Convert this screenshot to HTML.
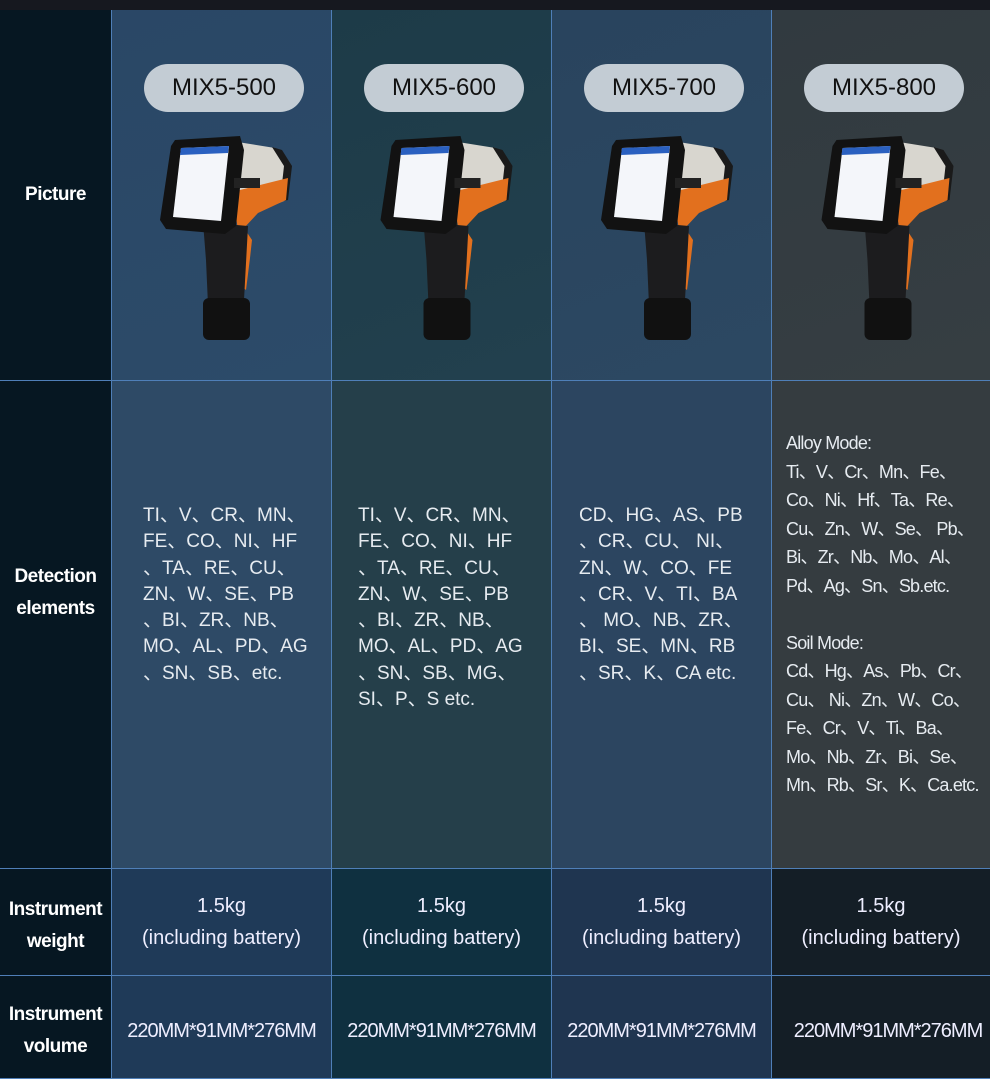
<!DOCTYPE html>
<html><head><meta charset="utf-8"><style>
*{margin:0;padding:0;box-sizing:border-box}
body{width:990px;height:1079px;background:#0e141c;font-family:"Liberation Sans","Noto Sans CJK SC",sans-serif;overflow:hidden;position:relative}
.c{position:absolute;border-right:1px solid #4f7fb8;border-bottom:1px solid #4f7fb8;color:#fff}
.lab{background:#061722;font-weight:bold;font-size:19px;display:flex;align-items:center;justify-content:center;text-align:center;line-height:32px;letter-spacing:-0.5px}
.pill{position:absolute;top:54px;left:32px;width:160px;height:48px;border-radius:24px;background:#c3ccd4;color:#111;font-size:24px;display:flex;align-items:center;justify-content:center}
.det{font-size:19px;line-height:26.3px;color:#e6ebf0;padding-left:31px;padding-top:122px}
.w{font-size:20px;text-align:center;line-height:32px;display:flex;flex-direction:column;justify-content:center;color:#eef}
.v{font-size:20px;display:flex;align-items:center;justify-content:center;color:#eef;letter-spacing:-1px;padding-top:8px}
svg{position:absolute;left:0;top:0}
</style></head><body>
<div style="position:absolute;left:0;top:0;width:990px;height:10px;background:#16181f"></div>
<div class="c lab" style="left:0;top:10px;width:112px;height:371px">Picture</div>
<div class="c lab" style="left:0;top:381px;width:112px;height:488px;padding-bottom:64px">Detection<br>elements</div>
<div class="c lab" style="left:0;top:869px;width:112px;height:107px;padding-top:8px">Instrument<br>weight</div>
<div class="c lab" style="left:0;top:976px;width:112px;height:103px;padding-top:8px">Instrument<br>volume</div>

<svg width="0" height="0"><defs><g id="gun">
<polygon points="225,140 275,148 290,165 287,200 260,210 235,205" fill="#d8d6cf"/>
<polygon points="272,147 282,150 292,166 288,200 280,202 284,166" fill="#1a1a1a"/>
<polygon points="232,192 288,178 286,200 258,213 244,228 252,240 250,258 246,290 236,282 238,230" fill="#e2701e"/>
<polygon points="203,222 248,226 244,300 208,305 206,260" fill="#1c1c1e"/>
<rect x="203" y="298" width="47" height="42" rx="6" fill="#111"/>
<polygon points="175,140 240,136 244,150 236,226 225,234 166,229 160,220 171,146" fill="#121212"/>
<polygon points="181,148 229,146 221,221 173,217" fill="#f4f6fa"/>
<polygon points="181,148 229,146 228,153 180,155" fill="#2a60c0"/>
<rect x="234" y="178" width="26" height="10" fill="#222"/>
</g></defs></svg>

<div class="c" style="left:112px;top:10px;width:220px;height:371px;background:linear-gradient(160deg,#2a4766,#2c4b69)"><div class="pill">MIX5-500</div></div>
<div class="c det" style="left:112px;top:381px;width:220px;height:488px;background:#2e4a66">TI、V、CR、MN、<br>FE、CO、NI、HF<br>、TA、RE、CU、<br>ZN、W、SE、PB<br>、BI、ZR、NB、<br>MO、AL、PD、AG<br>、SN、SB、etc.</div>
<div class="c w" style="left:112px;top:869px;width:220px;height:107px;background:#1f3a58"><div>1.5kg</div><div>(including battery)</div></div>
<div class="c v" style="left:112px;top:976px;width:220px;height:103px;background:#1f3a58">220MM*91MM*276MM</div>

<div class="c" style="left:332px;top:10px;width:220px;height:371px;background:linear-gradient(160deg,#1d3b48,#22404e)"><div class="pill">MIX5-600</div></div>
<div class="c det" style="left:332px;top:381px;width:220px;height:488px;background:#253f4a;padding-left:26px">TI、V、CR、MN、<br>FE、CO、NI、HF<br>、TA、RE、CU、<br>ZN、W、SE、PB<br>、BI、ZR、NB、<br>MO、AL、PD、AG<br>、SN、SB、MG、<br>SI、P、S etc.</div>
<div class="c w" style="left:332px;top:869px;width:220px;height:107px;background:#0f3040"><div>1.5kg</div><div>(including battery)</div></div>
<div class="c v" style="left:332px;top:976px;width:220px;height:103px;background:#0f3040">220MM*91MM*276MM</div>

<div class="c" style="left:552px;top:10px;width:220px;height:371px;background:linear-gradient(160deg,#29445e,#2c4862)"><div class="pill">MIX5-700</div></div>
<div class="c det" style="left:552px;top:381px;width:220px;height:488px;background:#2c4560;padding-left:27px">CD、HG、AS、PB<br>、CR、CU、 NI、<br>ZN、W、CO、FE<br>、CR、V、TI、BA<br>、 MO、NB、ZR、<br>BI、SE、MN、RB<br>、SR、K、CA etc.</div>
<div class="c w" style="left:552px;top:869px;width:220px;height:107px;background:#1f3550"><div>1.5kg</div><div>(including battery)</div></div>
<div class="c v" style="left:552px;top:976px;width:220px;height:103px;background:#1f3550">220MM*91MM*276MM</div>

<div class="c" style="left:772px;top:10px;width:218px;height:371px;background:linear-gradient(160deg,#313a40,#363e42);border-right:none"><div class="pill">MIX5-800</div></div>
<div class="c det" style="left:772px;top:381px;width:218px;height:488px;background:#353c40;padding-left:14px;font-size:18px;line-height:28.5px;letter-spacing:-0.8px;border-right:none;padding-top:48px">Alloy Mode:<br>Ti、V、Cr、Mn、Fe、<br>Co、Ni、Hf、Ta、Re、<br>Cu、Zn、W、Se、 Pb、<br>Bi、Zr、Nb、Mo、Al、<br>Pd、Ag、Sn、Sb.etc.<br><br>Soil Mode:<br>Cd、Hg、As、Pb、Cr、<br>Cu、 Ni、Zn、W、Co、<br>Fe、Cr、V、Ti、Ba、<br>Mo、Nb、Zr、Bi、Se、<br>Mn、Rb、Sr、K、Ca.etc.</div>
<div class="c w" style="left:772px;top:869px;width:218px;height:107px;background:#141e26;border-right:none"><div>1.5kg</div><div>(including battery)</div></div>
<div class="c v" style="left:772px;top:976px;width:218px;height:103px;background:#141e26;border-right:none;padding-left:14px">220MM*91MM*276MM</div>

<svg width="990" height="400" style="pointer-events:none">
<use href="#gun"/>
<use href="#gun" transform="translate(220.5,0)"/>
<use href="#gun" transform="translate(441,0)"/>
<use href="#gun" transform="translate(661.5,0)"/>
</svg>
</body></html>
